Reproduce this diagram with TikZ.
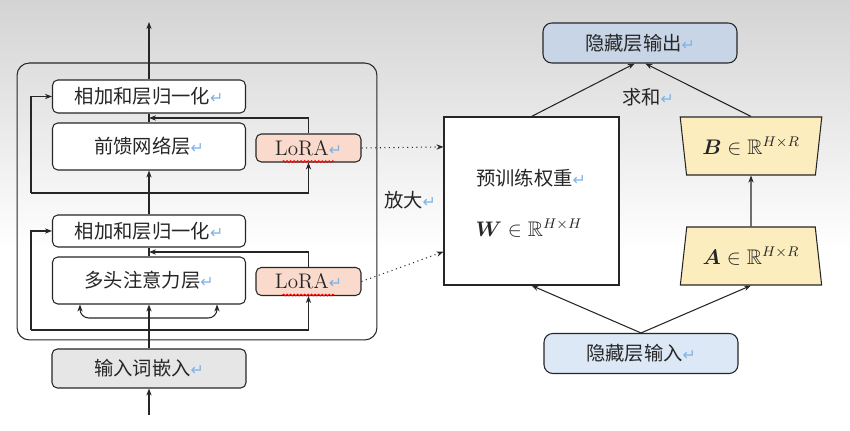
\documentclass[tikz,border=0pt]{standalone}
\usepackage{fontspec}
\usepackage{amsmath,amssymb,bm}
\newfontfamily\cjk{Noto Sans CJK SC}
\newfontfamily\dejavu{DejaVu Sans}
\usetikzlibrary{positioning, arrows.meta, shapes.geometric, calc, decorations.pathmorphing}

\definecolor{retblue}{HTML}{7FB2E5}
\definecolor{lorapink}{HTML}{F9DACD}
\definecolor{outblue}{HTML}{C8D5E6}
\definecolor{inblue}{HTML}{DCE8F6}
\definecolor{embgray}{HTML}{E6E6E6}
\definecolor{matyellow}{HTML}{FBEDBE}
\newcommand{\retmark}{{\color{retblue}\dejavu\fontsize{9}{10}\selectfont ↵}}

\begin{document}
\begin{tikzpicture}[x=0.02cm, y=-0.02cm, color=black!85, line width=.6pt,
    font=\cjk\fontsize{11}{13}\selectfont, >={Stealth[length=4pt,width=3pt]},
    layer/.style={draw, rounded corners=3pt, fill=white, minimum width=3.86cm},
    lora/.style={draw, rounded corners=3pt, fill=lorapink, minimum width=2.1cm, minimum height=.56cm, font=\rmfamily\fontsize{12}{14}\selectfont},
    mat/.style={draw, trapezium, trapezium angle=77, trapezium stretches=true, fill=matyellow, minimum width=2.84cm, minimum height=1.16cm, inner sep=1pt, font=\fontsize{12}{14}\selectfont},
    hidden/.style={draw, rounded corners=5pt, minimum width=3.88cm, minimum height=.8cm},
    wavy/.style={draw=red, line width=.5pt, decorate, decoration={snake, amplitude=.5pt, segment length=2pt}}]

        %BACKGROUND
        \shade[top color=black!17, bottom color=white] (0,0) rectangle (850,250);
        \fill[white] (0,250) rectangle (850,431);
        \useasboundingbox (0,0) rectangle (850,431);

        %TRANSFORMER BLOCK
        \node[draw, rounded corners=7pt, minimum width=7.2cm, minimum height=5.54cm] (block) at (197,201.5) {};
        \node[layer, minimum height=.66cm] (addUp) at (149,96.5) {相加和层归一化\retmark};
        \node[layer, minimum height=.94cm] (ffn) at (149,146.5) {前馈网络层\retmark};
        \node[lora] (loraUp) at (308.5,148) {LoRA\retmark};
        \node[layer, minimum height=.64cm] (addLow) at (149,231) {相加和层归一化\retmark};
        \node[layer, minimum height=.94cm] (mha) at (149,280.5) {多头注意力层\retmark};
        \node[lora] (loraLow) at (308.5,281.5) {LoRA\retmark};
        \node[layer, fill=embgray, minimum width=3.88cm, minimum height=.78cm] (embed) at (149,368.5) {输入词嵌入\retmark};

        \coordinate (outTop) at (149,22);
        \coordinate (inBot) at (149,415);
        \coordinate (leftUp) at (31,193);
        \coordinate (leftLow) at (31,330);
        \coordinate (splitLow) at (149,318);

        % upper half
        \draw[->] (addUp.north) -- (outTop);
        \draw[->] (addLow.north) -- (ffn.south);
        \draw (ffn.north) -- (addUp.south);
        \draw[->] (loraUp.north) |- ($(ffn.north)!.5!(addUp.south)$);
        \draw[->] (leftUp) |- (addUp.west);
        \draw[->] (leftUp) -| (loraUp.south);
        \draw[wavy] ($(loraUp.south west)+(27,-1)$) -- ++(52,0);

        % lower half
        \draw[->] (inBot) -- (embed.south);
        \draw[->] (embed.north) -- (mha.south);
        \draw (mha.north) -- (addLow.south);
        \draw[->] (loraLow.north) |- ($(mha.north)!.5!(addLow.south)$);
        \draw[->] (leftLow) |- (addLow.west);
        \draw[->] (leftLow) -| (loraLow.south);
        \draw[->, rounded corners=5pt] (splitLow) -| ($(mha.south west)+(28,0)$);
        \draw[->, rounded corners=5pt] (splitLow) -| ($(mha.south east)+(-29,0)$);
        \draw[wavy] ($(loraLow.south west)+(27,-1)$) -- ++(52,0);

        %LORA SIDE
        \node[hidden, fill=outblue] (hOut) at (640,43) {隐藏层输出\retmark};
        \node[draw, fill=white, minimum width=3.5cm, minimum height=3.36cm] (W) at (531.5,201) {};
        \node[] (Wname) at (531,178) {预训练权重\retmark};
        \node[font=\fontsize{12}{14}\selectfont] (Wmath) at (529,228) {$\bm{W}\in\mathbb{R}^{H\times H}$};
        \node[mat, shape border rotate=180] (B) at (751,146) {$\bm{B}\in\mathbb{R}^{H\times R}$};
        \node[mat] (A) at (751,256) {$\bm{A}\in\mathbb{R}^{H\times R}$};
        \node[hidden, fill=inblue] (hIn) at (641,353.5) {隐藏层输入\retmark};
        \node[] (sumLbl) at (648,97) {求和\retmark};
        \node[] (zoomLbl) at (410,200) {放大\retmark};

        \draw[->] (hIn.north) -- (W.south);
        \draw[->] (hIn.north) -- (A.south);
        \draw[->] (A.north) -- (B.south);
        \draw[->] (W.north) -- ([xshift=-3pt]hOut.south);
        \draw[->] (B.north) -- ([xshift=3pt]hOut.south);
        \draw[->, dotted] (loraUp.east) -- ($(W.north west)!.18!(W.south west)$);
        \draw[->, dotted] (loraLow.east) -- ($(W.north west)!.8!(W.south west)$);

    \end{tikzpicture}
\end{document}
